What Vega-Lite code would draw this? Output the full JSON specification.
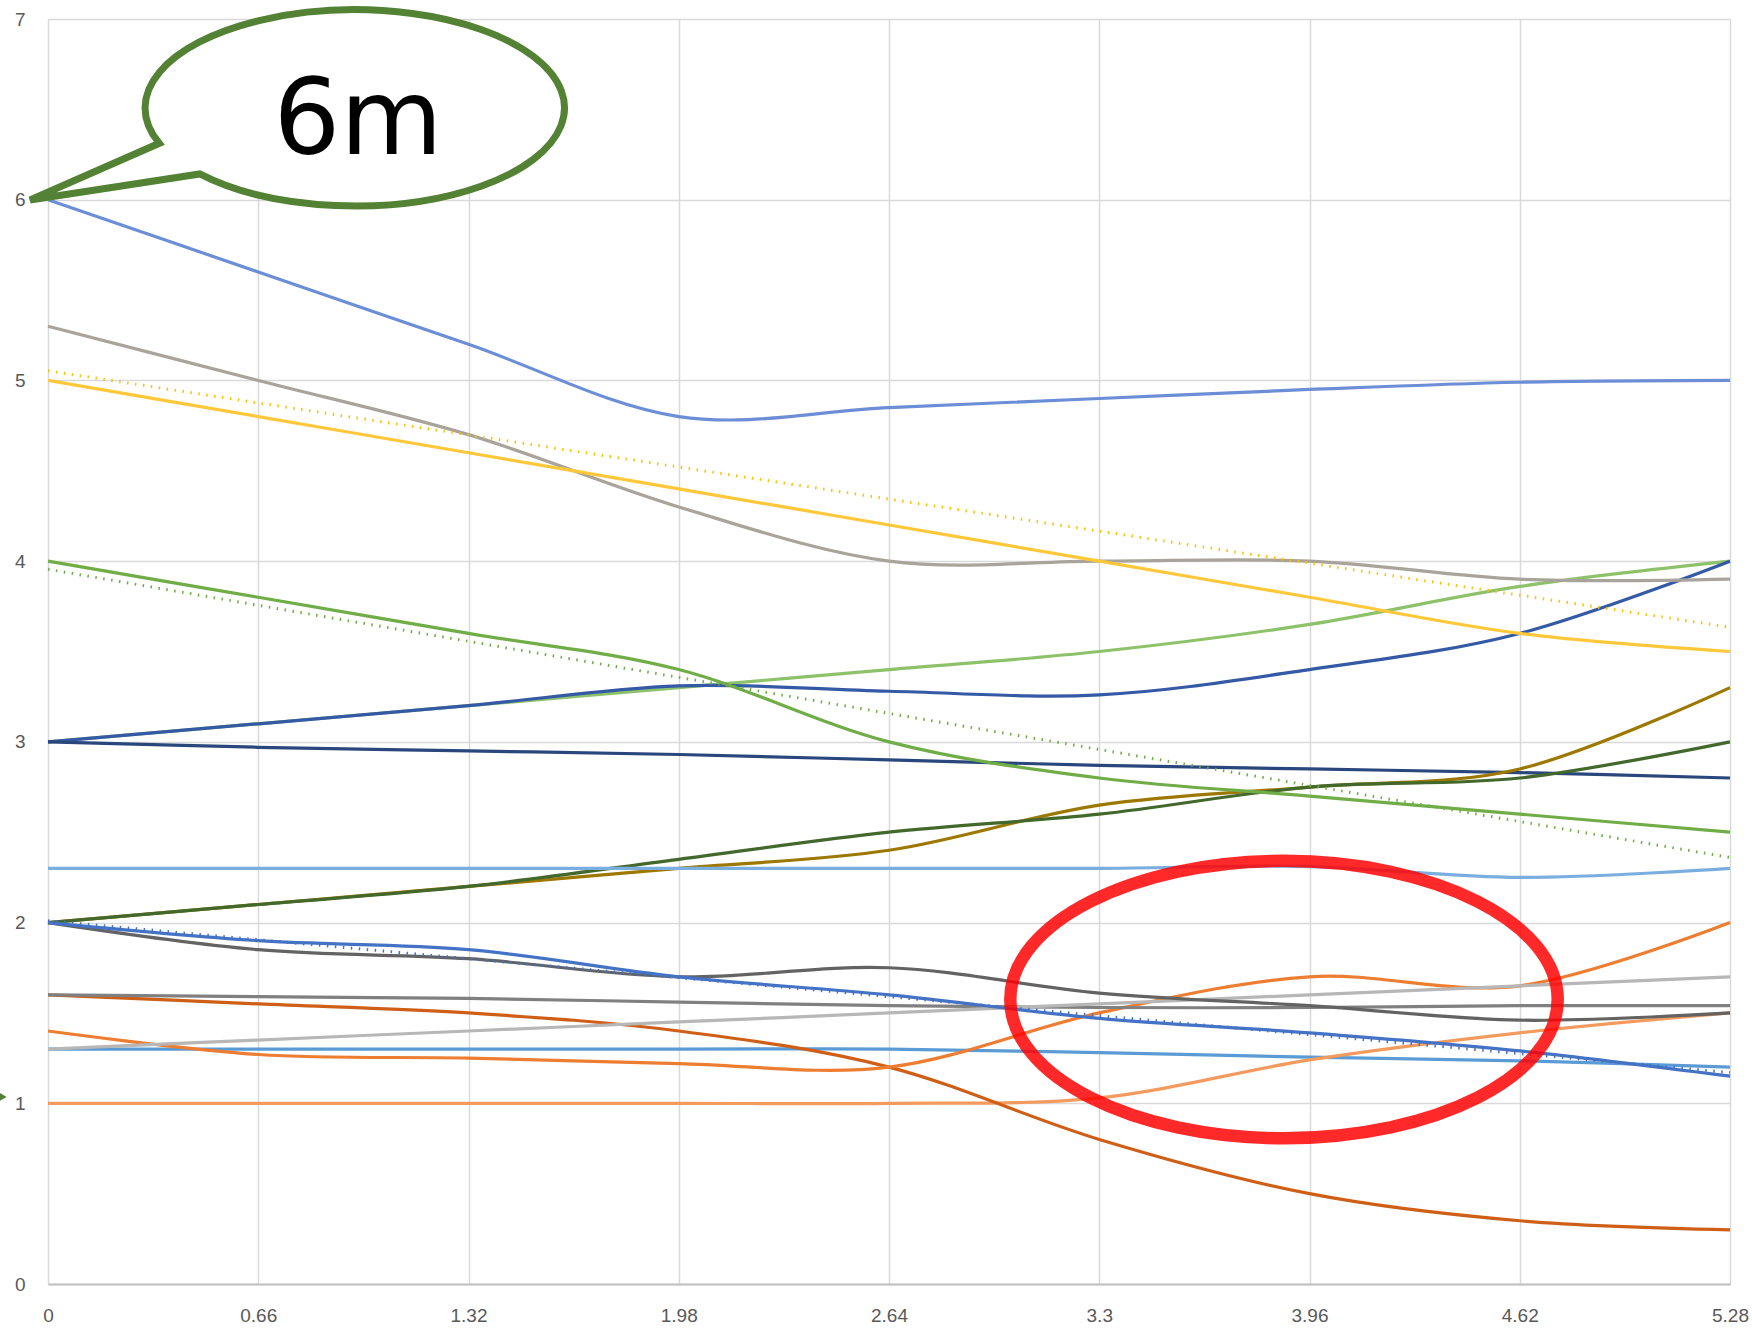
{
  "$schema": "https://vega.github.io/schema/vega-lite/v6.json",
  "width": 1682,
  "height": 1265,
  "autosize": {"type": "none"},
  "padding": {"left": 48, "top": 19, "right": 22, "bottom": 45},
  "background": "white",
  "config": {
    "view": {"stroke": null},
    "axis": {
      "labelFont": "Liberation Sans",
      "labelFontSize": 19,
      "labelColor": "#595959",
      "gridColor": "#d9d9d9",
      "gridWidth": 1.5,
      "ticks": false,
      "tickSize": 0,
      "title": null,
      "labelFlush": false,
      "labelOverlap": false
    }
  },
  "resolve": {"scale": {"color": "independent"}},
  "datasets": {
    "series": [
      {"s":"L01","x":0,"y":3.0},{"s":"L01","x":0.66,"y":3.1},{"s":"L01","x":1.32,"y":3.2},{"s":"L01","x":1.98,"y":3.3},{"s":"L01","x":2.64,"y":3.4},{"s":"L01","x":3.3,"y":3.5},{"s":"L01","x":3.96,"y":3.65},{"s":"L01","x":4.62,"y":3.86},{"s":"L01","x":5.28,"y":4.0},
      {"s":"L02","x":0,"y":3.0},{"s":"L02","x":0.66,"y":3.1},{"s":"L02","x":1.32,"y":3.2},{"s":"L02","x":1.98,"y":3.31},{"s":"L02","x":2.64,"y":3.28},{"s":"L02","x":3.3,"y":3.26},{"s":"L02","x":3.96,"y":3.4},{"s":"L02","x":4.62,"y":3.6},{"s":"L02","x":5.28,"y":4.0},
      {"s":"L03","x":0,"y":3.0},{"s":"L03","x":0.66,"y":2.97},{"s":"L03","x":1.32,"y":2.95},{"s":"L03","x":1.98,"y":2.93},{"s":"L03","x":2.64,"y":2.9},{"s":"L03","x":3.3,"y":2.87},{"s":"L03","x":3.96,"y":2.85},{"s":"L03","x":4.62,"y":2.83},{"s":"L03","x":5.28,"y":2.8},
      {"s":"L04","x":0,"y":2.0},{"s":"L04","x":0.66,"y":2.1},{"s":"L04","x":1.32,"y":2.2},{"s":"L04","x":1.98,"y":2.3},{"s":"L04","x":2.64,"y":2.4},{"s":"L04","x":3.3,"y":2.65},{"s":"L04","x":3.96,"y":2.75},{"s":"L04","x":4.62,"y":2.85},{"s":"L04","x":5.28,"y":3.3},
      {"s":"L05","x":0,"y":2.0},{"s":"L05","x":0.66,"y":2.1},{"s":"L05","x":1.32,"y":2.2},{"s":"L05","x":1.98,"y":2.35},{"s":"L05","x":2.64,"y":2.5},{"s":"L05","x":3.3,"y":2.6},{"s":"L05","x":3.96,"y":2.75},{"s":"L05","x":4.62,"y":2.8},{"s":"L05","x":5.28,"y":3.0},
      {"s":"L06","x":0,"y":2.3},{"s":"L06","x":0.66,"y":2.3},{"s":"L06","x":1.32,"y":2.3},{"s":"L06","x":1.98,"y":2.3},{"s":"L06","x":2.64,"y":2.3},{"s":"L06","x":3.3,"y":2.3},{"s":"L06","x":3.96,"y":2.31},{"s":"L06","x":4.62,"y":2.25},{"s":"L06","x":5.28,"y":2.3},
      {"s":"L07","x":0,"y":5.3},{"s":"L07","x":0.66,"y":5.0},{"s":"L07","x":1.32,"y":4.7},{"s":"L07","x":1.98,"y":4.3},{"s":"L07","x":2.64,"y":4.0},{"s":"L07","x":3.3,"y":4.0},{"s":"L07","x":3.96,"y":4.0},{"s":"L07","x":4.62,"y":3.9},{"s":"L07","x":5.28,"y":3.9},
      {"s":"L08","x":0,"y":5.0},{"s":"L08","x":0.66,"y":4.8},{"s":"L08","x":1.32,"y":4.6},{"s":"L08","x":1.98,"y":4.4},{"s":"L08","x":2.64,"y":4.2},{"s":"L08","x":3.3,"y":4.0},{"s":"L08","x":3.96,"y":3.8},{"s":"L08","x":4.62,"y":3.6},{"s":"L08","x":5.28,"y":3.5},
      {"s":"L09","x":0,"y":4.0},{"s":"L09","x":0.66,"y":3.8},{"s":"L09","x":1.32,"y":3.6},{"s":"L09","x":1.98,"y":3.4},{"s":"L09","x":2.64,"y":3.0},{"s":"L09","x":3.3,"y":2.8},{"s":"L09","x":3.96,"y":2.7},{"s":"L09","x":4.62,"y":2.6},{"s":"L09","x":5.28,"y":2.5},
      {"s":"L10","x":0,"y":1.3},{"s":"L10","x":0.66,"y":1.3},{"s":"L10","x":1.32,"y":1.3},{"s":"L10","x":1.98,"y":1.3},{"s":"L10","x":2.64,"y":1.3},{"s":"L10","x":3.3,"y":1.28},{"s":"L10","x":3.96,"y":1.255},{"s":"L10","x":4.62,"y":1.235},{"s":"L10","x":5.28,"y":1.2},
      {"s":"L11","x":0,"y":1.0},{"s":"L11","x":0.66,"y":1.0},{"s":"L11","x":1.32,"y":1.0},{"s":"L11","x":1.98,"y":1.0},{"s":"L11","x":2.64,"y":1.0},{"s":"L11","x":3.3,"y":1.03},{"s":"L11","x":3.96,"y":1.24},{"s":"L11","x":4.62,"y":1.39},{"s":"L11","x":5.28,"y":1.5},
      {"s":"L12","x":0,"y":1.6},{"s":"L12","x":0.66,"y":1.55},{"s":"L12","x":1.32,"y":1.5},{"s":"L12","x":1.98,"y":1.4},{"s":"L12","x":2.64,"y":1.2},{"s":"L12","x":3.3,"y":0.8},{"s":"L12","x":3.96,"y":0.5},{"s":"L12","x":4.62,"y":0.35},{"s":"L12","x":5.28,"y":0.3},
      {"s":"L13","x":0,"y":1.4},{"s":"L13","x":0.66,"y":1.27},{"s":"L13","x":1.32,"y":1.25},{"s":"L13","x":1.98,"y":1.22},{"s":"L13","x":2.64,"y":1.2},{"s":"L13","x":3.3,"y":1.5},{"s":"L13","x":3.96,"y":1.7},{"s":"L13","x":4.62,"y":1.65},{"s":"L13","x":5.28,"y":2.0},
      {"s":"L14","x":0,"y":1.6},{"s":"L14","x":0.66,"y":1.59},{"s":"L14","x":1.32,"y":1.58},{"s":"L14","x":1.98,"y":1.56},{"s":"L14","x":2.64,"y":1.54},{"s":"L14","x":3.3,"y":1.53},{"s":"L14","x":3.96,"y":1.53},{"s":"L14","x":4.62,"y":1.54},{"s":"L14","x":5.28,"y":1.54},
      {"s":"L15","x":0,"y":1.3},{"s":"L15","x":0.66,"y":1.35},{"s":"L15","x":1.32,"y":1.4},{"s":"L15","x":1.98,"y":1.45},{"s":"L15","x":2.64,"y":1.5},{"s":"L15","x":3.3,"y":1.55},{"s":"L15","x":3.96,"y":1.6},{"s":"L15","x":4.62,"y":1.65},{"s":"L15","x":5.28,"y":1.7},
      {"s":"L16","x":0,"y":2.0},{"s":"L16","x":0.66,"y":1.85},{"s":"L16","x":1.32,"y":1.8},{"s":"L16","x":1.98,"y":1.7},{"s":"L16","x":2.64,"y":1.75},{"s":"L16","x":3.3,"y":1.61},{"s":"L16","x":3.96,"y":1.54},{"s":"L16","x":4.62,"y":1.46},{"s":"L16","x":5.28,"y":1.5},
      {"s":"L17","x":0,"y":2.0},{"s":"L17","x":0.66,"y":1.9},{"s":"L17","x":1.32,"y":1.85},{"s":"L17","x":1.98,"y":1.7},{"s":"L17","x":2.64,"y":1.6},{"s":"L17","x":3.3,"y":1.47},{"s":"L17","x":3.96,"y":1.39},{"s":"L17","x":4.62,"y":1.29},{"s":"L17","x":5.28,"y":1.15},
      {"s":"L18","x":0,"y":6.0},{"s":"L18","x":0.66,"y":5.6},{"s":"L18","x":1.32,"y":5.2},{"s":"L18","x":1.98,"y":4.8},{"s":"L18","x":2.64,"y":4.85},{"s":"L18","x":3.3,"y":4.9},{"s":"L18","x":3.96,"y":4.95},{"s":"L18","x":4.62,"y":4.99},{"s":"L18","x":5.28,"y":5.0}
    ],
    "trends": [
      {"s":"T1","x":0,"y":5.053},{"s":"T1","x":5.28,"y":3.634},
      {"s":"T2","x":0,"y":3.955},{"s":"T2","x":5.28,"y":2.36},
      {"s":"T3","x":0,"y":2.01},{"s":"T3","x":5.28,"y":1.17}
    ],
    "ring": [{"x":3.88,"y":1.574}],
    "bubble": [{"x":0.964,"y":6.507}],
    "label": [{"x":0.973,"y":6.253,"text":"6m"}],
    "arrowhead": [{"x":-0.144,"y":1.035}]
  },
  "layer": [
    {
      "data": {"name": "series"},
      "mark": {"type": "line", "interpolate": "cardinal", "strokeWidth": 3.2},
      "encoding": {
        "x": {
          "field": "x", "type": "quantitative",
          "scale": {"domain": [0, 5.28], "nice": false, "zero": false},
          "axis": {
            "values": [0, 0.66, 1.32, 1.98, 2.64, 3.3, 3.96, 4.62, 5.28],
            "labelExpr": "'' + datum.value",
            "domain": true, "domainColor": "#bfbfbf", "domainWidth": 2,
            "labelPadding": 22
          }
        },
        "y": {
          "field": "y", "type": "quantitative",
          "scale": {"domain": [0, 7], "nice": false},
          "axis": {
            "values": [0, 1, 2, 3, 4, 5, 6, 7],
            "format": "d",
            "domain": false,
            "labelPadding": 23
          }
        },
        "color": {
          "field": "s", "type": "nominal", "legend": null,
          "scale": {
            "domain": ["L01","L02","L03","L04","L05","L06","L07","L08","L09","L10","L11","L12","L13","L14","L15","L16","L17","L18"],
            "range": ["#8dc26b","#3459a5","#2a477d","#9c7800","#43682b","#7aaee0","#a8a49c","#ffc83a","#70ad47","#5b9bd5","#f39b5f","#cf5f16","#ed7d31","#808080","#b7b7b7","#636363","#4472c4","#6b8ed6"]
          }
        }
      }
    },
    {
      "data": {"name": "trends"},
      "mark": {"type": "line", "strokeWidth": 3, "strokeDash": [1.5, 6.5], "strokeCap": "butt"},
      "encoding": {
        "x": {"field": "x", "type": "quantitative"},
        "y": {"field": "y", "type": "quantitative"},
        "color": {
          "field": "s", "type": "nominal", "legend": null,
          "scale": {"domain": ["T1","T2","T3"], "range": ["#ffc000","#70ad47","#4472c4"]}
        }
      }
    },
    {
      "data": {"name": "ring"},
      "mark": {
        "type": "point",
        "shape": "M -1 0 A 1 0.5068 0 1 0 1 0 A 1 0.5068 0 1 0 -1 0 Z",
        "size": 299647,
        "filled": false,
        "stroke": "#ff0000",
        "strokeOpacity": 0.84,
        "strokeWidth": 12.5,
        "opacity": 1
      },
      "encoding": {
        "x": {"field": "x", "type": "quantitative"},
        "y": {"field": "y", "type": "quantitative"}
      }
    },
    {
      "data": {"name": "bubble"},
      "mark": {
        "type": "point",
        "shape": "M -0.741 0.314 A 1 0.4678 0 1 0 -0.934 0.168 L -1.55 0.438 Z",
        "size": 175896,
        "filled": true,
        "fill": "#ffffff",
        "stroke": "#548235",
        "strokeWidth": 7,
        "strokeJoin": "miter",
        "opacity": 1,
        "fillOpacity": 1,
        "strokeOpacity": 1
      },
      "encoding": {
        "x": {"field": "x", "type": "quantitative"},
        "y": {"field": "y", "type": "quantitative"}
      }
    },
    {
      "data": {"name": "label"},
      "mark": {
        "type": "text",
        "font": "DejaVu Sans",
        "fontSize": 105,
        "align": "center",
        "baseline": "alphabetic",
        "color": "#000000"
      },
      "encoding": {
        "x": {"field": "x", "type": "quantitative"},
        "y": {"field": "y", "type": "quantitative"},
        "text": {"field": "text"}
      }
    },
    {
      "data": {"name": "arrowhead"},
      "mark": {"type": "point", "shape": "triangle-right", "size": 110, "filled": true, "color": "#548235", "opacity": 1},
      "encoding": {
        "x": {"field": "x", "type": "quantitative"},
        "y": {"field": "y", "type": "quantitative"}
      }
    }
  ]
}
